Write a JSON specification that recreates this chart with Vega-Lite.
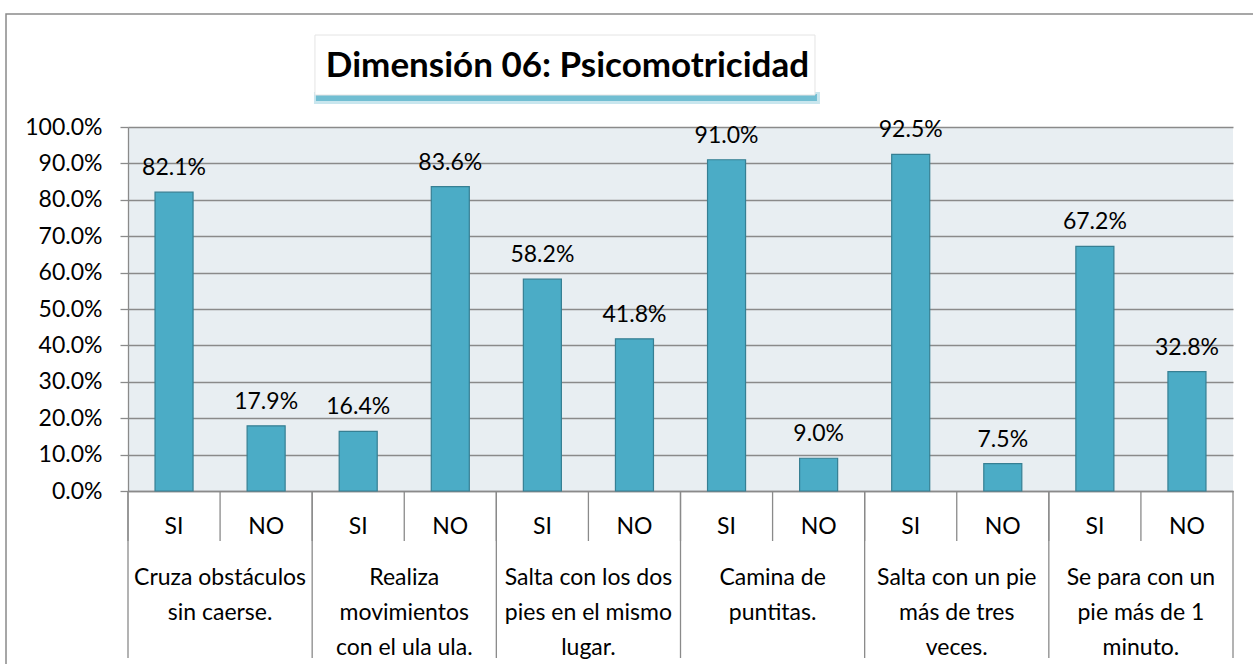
{
  "$schema": "https://vega.github.io/schema/vega-lite/v6.json",
  "width": 1105,
  "height": 364,
  "autosize": "none",
  "padding": {"left": 128, "top": 127, "right": 20, "bottom": 173},
  "background": "white",
  "config": {
    "view": {"fill": "#E8EEF2", "stroke": null},
    "font": "Lato",
    "axisY": {"tickCount": 11, "labelOverlap": false}
  },
  "data": {
    "values": [
      {"key": "1-SI", "item": "Cruza obstáculos\nsin caerse.", "resp": "SI", "value": 0.821},
      {"key": "1-NO", "item": "Cruza obstáculos\nsin caerse.", "resp": "NO", "value": 0.179},
      {"key": "2-SI", "item": "Realiza\nmovimientos\ncon el ula ula.", "resp": "SI", "value": 0.164},
      {"key": "2-NO", "item": "Realiza\nmovimientos\ncon el ula ula.", "resp": "NO", "value": 0.836},
      {"key": "3-SI", "item": "Salta con los dos\npies en el mismo\nlugar.", "resp": "SI", "value": 0.582},
      {"key": "3-NO", "item": "Salta con los dos\npies en el mismo\nlugar.", "resp": "NO", "value": 0.418},
      {"key": "4-SI", "item": "Camina de\npuntitas.", "resp": "SI", "value": 0.910},
      {"key": "4-NO", "item": "Camina de\npuntitas.", "resp": "NO", "value": 0.090},
      {"key": "5-SI", "item": "Salta con un pie\nmás de tres\nveces.", "resp": "SI", "value": 0.925},
      {"key": "5-NO", "item": "Salta con un pie\nmás de tres\nveces.", "resp": "NO", "value": 0.075},
      {"key": "6-SI", "item": "Se para con un\npie más de 1\nminuto.", "resp": "SI", "value": 0.672},
      {"key": "6-NO", "item": "Se para con un\npie más de 1\nminuto.", "resp": "NO", "value": 0.328}
    ]
  },
  "resolve": {"scale": {"x": "independent"}},
  "layer": [
    {
      "mark": {"type": "bar", "fill": "#4BACC6", "stroke": "#367F93", "strokeWidth": 1.2},
      "encoding": {
        "x": {
          "field": "key", "type": "nominal", "sort": null,
          "scale": {"paddingInner": 0.587, "paddingOuter": 0.2935},
          "axis": {
            "title": null, "labelExpr": "split(datum.value, '-')[1]", "ticks": false, "tickSize": 0,
            "labelAngle": 0, "labelPadding": 24, "labelFontSize": 23, "labelColor": "#000000",
            "labelBaseline": "top", "domainColor": "#8a8a8a", "domainWidth": 1.3, "grid": false
          }
        },
        "y": {
          "field": "value", "type": "quantitative", "scale": {"domain": [0, 1]},
          "axis": {"title": null, "format": ".1%", "values": [0, 0.1, 0.2, 0.3, 0.4, 0.5, 0.6, 0.7, 0.8, 0.9, 1.0], "tickCount": 11, "labelOverlap": false, "tickSize": 8, "labelPadding": 18, "labelFontSize": 23, "labelColor": "#000000", "grid": true, "gridColor": "#8a8a8a", "gridWidth": 1.3, "domainColor": "#8a8a8a", "domainWidth": 1.3, "tickColor": "#8a8a8a", "tickWidth": 1.3}
        }
      }
    },
    {
      "data": {"values": [{}]},
      "mark": {"type": "rect", "fill": null, "stroke": "#8a8a8a", "strokeWidth": 1.5},
      "encoding": {
        "x": {"datum": -0.1104, "type": "quantitative", "scale": {"domain": [0, 1]}, "axis": null},
        "x2": {"datum": 1.2},
        "y": {"datum": 1.3104, "type": "quantitative", "scale": {"domain": [0, 1]},
              "axis": {"title": null, "format": ".1%", "values": [0, 0.1, 0.2, 0.3, 0.4, 0.5, 0.6, 0.7, 0.8, 0.9, 1.0], "tickCount": 11, "labelOverlap": false, "tickSize": 8, "labelPadding": 18, "labelFontSize": 23, "labelColor": "#000000", "grid": true, "gridColor": "#8a8a8a", "gridWidth": 1.3, "domainColor": "#8a8a8a", "domainWidth": 1.3, "tickColor": "#8a8a8a", "tickWidth": 1.3}},
        "y2": {"datum": -0.7}
      }
    },
    {
      "mark": {"type": "text", "dy": -17, "baseline": "alphabetic", "align": "center", "fontSize": 23, "color": "#000000"},
      "encoding": {
        "x": {"field": "key", "type": "nominal", "sort": null, "scale": {"paddingInner": 0.587, "paddingOuter": 0.2935}, "axis": null},
        "y": {"field": "value", "type": "quantitative", "scale": {"domain": [0, 1]},
              "axis": {"title": null, "format": ".1%", "values": [0, 0.1, 0.2, 0.3, 0.4, 0.5, 0.6, 0.7, 0.8, 0.9, 1.0], "tickCount": 11, "labelOverlap": false, "tickSize": 8, "labelPadding": 18, "labelFontSize": 23, "labelColor": "#000000", "grid": true, "gridColor": "#8a8a8a", "gridWidth": 1.3, "domainColor": "#8a8a8a", "domainWidth": 1.3, "tickColor": "#8a8a8a", "tickWidth": 1.3}},
        "text": {"field": "value", "type": "quantitative", "format": ".1%"}
      }
    },
    {
      "mark": {"type": "rule", "color": "#8a8a8a", "strokeWidth": 1.3},
      "encoding": {
        "x": {"field": "key", "type": "nominal", "sort": null, "bandPosition": 0,
              "scale": {"domain": ["1-SI","1-NO","2-SI","2-NO","3-SI","3-NO","4-SI","4-NO","5-SI","5-NO","6-SI","6-NO"], "paddingInner": 0, "paddingOuter": 0},
              "axis": null},
        "y": {"datum": 0, "type": "quantitative", "scale": {"domain": [0, 1]},
              "axis": {"title": null, "format": ".1%", "values": [0, 0.1, 0.2, 0.3, 0.4, 0.5, 0.6, 0.7, 0.8, 0.9, 1.0], "tickCount": 11, "labelOverlap": false, "tickSize": 8, "labelPadding": 18, "labelFontSize": 23, "labelColor": "#000000", "grid": true, "gridColor": "#8a8a8a", "gridWidth": 1.3, "domainColor": "#8a8a8a", "domainWidth": 1.3, "tickColor": "#8a8a8a", "tickWidth": 1.3}},
        "y2": {"datum": -0.1374}
      }
    },
    {
      "transform": [{"filter": "datum.resp == 'SI'"}],
      "mark": {"type": "rule", "color": "#8a8a8a", "strokeWidth": 1.3},
      "encoding": {
        "x": {"field": "key", "type": "nominal", "sort": null, "bandPosition": 0,
              "scale": {"domain": ["1-SI","1-NO","2-SI","2-NO","3-SI","3-NO","4-SI","4-NO","5-SI","5-NO","6-SI","6-NO"], "paddingInner": 0, "paddingOuter": 0},
              "axis": null},
        "y": {"datum": 0, "type": "quantitative", "scale": {"domain": [0, 1]},
              "axis": {"title": null, "format": ".1%", "values": [0, 0.1, 0.2, 0.3, 0.4, 0.5, 0.6, 0.7, 0.8, 0.9, 1.0], "tickCount": 11, "labelOverlap": false, "tickSize": 8, "labelPadding": 18, "labelFontSize": 23, "labelColor": "#000000", "grid": true, "gridColor": "#8a8a8a", "gridWidth": 1.3, "domainColor": "#8a8a8a", "domainWidth": 1.3, "tickColor": "#8a8a8a", "tickWidth": 1.3}},
        "y2": {"datum": -0.4588}
      }
    },
    {
      "transform": [{"filter": "datum.key == '6-NO'"}],
      "mark": {"type": "rule", "color": "#8a8a8a", "strokeWidth": 1.3},
      "encoding": {
        "x": {"field": "key", "type": "nominal", "sort": null, "bandPosition": 1,
              "scale": {"domain": ["1-SI","1-NO","2-SI","2-NO","3-SI","3-NO","4-SI","4-NO","5-SI","5-NO","6-SI","6-NO"], "paddingInner": 0, "paddingOuter": 0},
              "axis": null},
        "y": {"datum": 0, "type": "quantitative", "scale": {"domain": [0, 1]},
              "axis": {"title": null, "format": ".1%", "values": [0, 0.1, 0.2, 0.3, 0.4, 0.5, 0.6, 0.7, 0.8, 0.9, 1.0], "tickCount": 11, "labelOverlap": false, "tickSize": 8, "labelPadding": 18, "labelFontSize": 23, "labelColor": "#000000", "grid": true, "gridColor": "#8a8a8a", "gridWidth": 1.3, "domainColor": "#8a8a8a", "domainWidth": 1.3, "tickColor": "#8a8a8a", "tickWidth": 1.3}},
        "y2": {"datum": -0.4588}
      }
    },
    {
      "transform": [{"filter": "datum.resp == 'NO'"}],
      "mark": {"type": "text", "align": "center", "baseline": "top", "dy": 76, "fontSize": 23, "lineHeight": 35, "lineBreak": "\n", "color": "#000000"},
      "encoding": {
        "x": {"field": "item", "type": "nominal", "sort": null,
              "scale": {"paddingInner": 0, "paddingOuter": 0},
              "axis": null},
        "y": {"datum": 0, "type": "quantitative", "scale": {"domain": [0, 1]},
              "axis": {"title": null, "format": ".1%", "values": [0, 0.1, 0.2, 0.3, 0.4, 0.5, 0.6, 0.7, 0.8, 0.9, 1.0], "tickCount": 11, "labelOverlap": false, "tickSize": 8, "labelPadding": 18, "labelFontSize": 23, "labelColor": "#000000", "grid": true, "gridColor": "#8a8a8a", "gridWidth": 1.3, "domainColor": "#8a8a8a", "domainWidth": 1.3, "tickColor": "#8a8a8a", "tickWidth": 1.3}},
        "text": {"field": "item", "type": "nominal"}
      }
    },
    {
      "data": {"values": [{}]},
      "mark": {"type": "rect", "fill": "#4BACC6", "opacity": 0.3},
      "encoding": {
        "x": {"datum": 0.1683, "type": "quantitative", "scale": {"domain": [0, 1]}, "axis": null},
        "x2": {"datum": 0.6262},
        "y": {"datum": 1.0962, "type": "quantitative", "scale": {"domain": [0, 1]},
              "axis": {"title": null, "format": ".1%", "values": [0, 0.1, 0.2, 0.3, 0.4, 0.5, 0.6, 0.7, 0.8, 0.9, 1.0], "tickCount": 11, "labelOverlap": false, "tickSize": 8, "labelPadding": 18, "labelFontSize": 23, "labelColor": "#000000", "grid": true, "gridColor": "#8a8a8a", "gridWidth": 1.3, "domainColor": "#8a8a8a", "domainWidth": 1.3, "tickColor": "#8a8a8a", "tickWidth": 1.3}},
        "y2": {"datum": 1.0632}
      }
    },
    {
      "data": {"values": [{}]},
      "mark": {"type": "rect", "fill": "#4BACC6", "opacity": 0.7},
      "encoding": {
        "x": {"datum": 0.1701, "type": "quantitative", "scale": {"domain": [0, 1]}, "axis": null},
        "x2": {"datum": 0.6235},
        "y": {"datum": 1.0907, "type": "quantitative", "scale": {"domain": [0, 1]},
              "axis": {"title": null, "format": ".1%", "values": [0, 0.1, 0.2, 0.3, 0.4, 0.5, 0.6, 0.7, 0.8, 0.9, 1.0], "tickCount": 11, "labelOverlap": false, "tickSize": 8, "labelPadding": 18, "labelFontSize": 23, "labelColor": "#000000", "grid": true, "gridColor": "#8a8a8a", "gridWidth": 1.3, "domainColor": "#8a8a8a", "domainWidth": 1.3, "tickColor": "#8a8a8a", "tickWidth": 1.3}},
        "y2": {"datum": 1.0714}
      }
    },
    {
      "data": {"values": [{}]},
      "mark": {"type": "rect", "fill": "#ffffff", "stroke": "#e4e4e4", "strokeWidth": 1},
      "encoding": {
        "x": {"datum": 0.1692, "type": "quantitative", "scale": {"domain": [0, 1]}, "axis": null},
        "x2": {"datum": 0.6217},
        "y": {"datum": 1.2527, "type": "quantitative", "scale": {"domain": [0, 1]},
              "axis": {"title": null, "format": ".1%", "values": [0, 0.1, 0.2, 0.3, 0.4, 0.5, 0.6, 0.7, 0.8, 0.9, 1.0], "tickCount": 11, "labelOverlap": false, "tickSize": 8, "labelPadding": 18, "labelFontSize": 23, "labelColor": "#000000", "grid": true, "gridColor": "#8a8a8a", "gridWidth": 1.3, "domainColor": "#8a8a8a", "domainWidth": 1.3, "tickColor": "#8a8a8a", "tickWidth": 1.3}},
        "y2": {"datum": 1.0879}
      }
    },
    {
      "data": {"values": [{"title": "Dimensión 06: Psicomotricidad"}]},
      "mark": {"type": "text", "align": "center", "baseline": "alphabetic", "fontSize": 35, "fontWeight": "bold", "color": "#000000"},
      "encoding": {
        "x": {"datum": 0.3977, "type": "quantitative", "scale": {"domain": [0, 1]}, "axis": null},
        "y": {"datum": 1.1382, "type": "quantitative", "scale": {"domain": [0, 1]},
              "axis": {"title": null, "format": ".1%", "values": [0, 0.1, 0.2, 0.3, 0.4, 0.5, 0.6, 0.7, 0.8, 0.9, 1.0], "tickCount": 11, "labelOverlap": false, "tickSize": 8, "labelPadding": 18, "labelFontSize": 23, "labelColor": "#000000", "grid": true, "gridColor": "#8a8a8a", "gridWidth": 1.3, "domainColor": "#8a8a8a", "domainWidth": 1.3, "tickColor": "#8a8a8a", "tickWidth": 1.3}},
        "text": {"field": "title", "type": "nominal"}
      }
    }
  ]
}
